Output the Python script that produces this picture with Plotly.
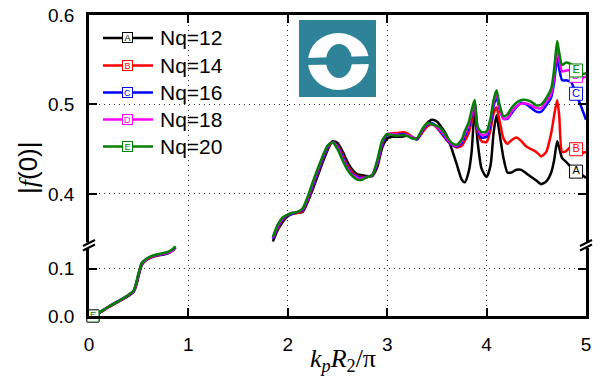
import plotly.graph_objects as go

# ---------------- data ----------------
series_names = ["Nq=12", "Nq=14", "Nq=16", "Nq=18", "Nq=20"]
series_letters = ["A", "B", "C", "D", "E"]
series_colors = ["#000000", "#FF0000", "#0000FF", "#FF00FF", "#008000"]

x_low = [0.04, 0.1, 0.2, 0.3, 0.4, 0.45, 0.48, 0.5, 0.53, 0.57, 0.62, 0.68, 0.75, 0.8, 0.84, 0.87]
low_A = [0.0, 0.006, 0.019, 0.031, 0.043, 0.051, 0.068, 0.086, 0.107, 0.117, 0.123, 0.127, 0.130, 0.133, 0.138, 0.144]
low_B = [0.0, 0.006, 0.019, 0.031, 0.044, 0.052, 0.070, 0.088, 0.109, 0.118, 0.124, 0.128, 0.131, 0.134, 0.139, 0.145]
low_C = [0.0, 0.007, 0.020, 0.032, 0.044, 0.053, 0.072, 0.089, 0.110, 0.119, 0.125, 0.129, 0.131, 0.134, 0.139, 0.145]
low_D = [0.0, 0.007, 0.020, 0.032, 0.045, 0.053, 0.073, 0.090, 0.111, 0.119, 0.125, 0.129, 0.132, 0.134, 0.139, 0.146]
low_E = [0.0, 0.007, 0.020, 0.032, 0.045, 0.054, 0.075, 0.092, 0.112, 0.120, 0.126, 0.130, 0.133, 0.136, 0.141, 0.147]

x_up = [1.85, 1.9, 1.95, 2.0, 2.05, 2.1, 2.15, 2.2, 2.25, 2.3, 2.35, 2.4, 2.45, 2.5, 2.55, 2.6,
        2.65, 2.7, 2.75, 2.8, 2.85, 2.9, 2.95, 3.0, 3.05, 3.1, 3.15, 3.2, 3.25, 3.3, 3.35, 3.4,
        3.45, 3.5, 3.55, 3.6, 3.65, 3.7, 3.75, 3.78, 3.82, 3.85, 3.88, 3.91, 3.95, 4.0, 4.04,
        4.07, 4.1, 4.13, 4.17, 4.21, 4.25, 4.3, 4.35, 4.4, 4.45, 4.5, 4.55, 4.6, 4.65, 4.68,
        4.71, 4.73, 4.76, 4.8, 4.85, 4.9, 4.95, 5.0]

up_A = [0.347, 0.360, 0.369, 0.375, 0.378, 0.379, 0.380, 0.391, 0.405, 0.420, 0.435, 0.449, 0.459, 0.457, 0.448, 0.436,
        0.427, 0.422, 0.421, 0.420, 0.420, 0.430, 0.452, 0.462, 0.464, 0.464, 0.464, 0.465, 0.463, 0.462, 0.470, 0.479,
        0.483, 0.481, 0.474, 0.465, 0.450, 0.433, 0.416, 0.413, 0.425, 0.448, 0.494, 0.458, 0.428, 0.419, 0.432,
        0.468, 0.488, 0.468, 0.440, 0.424, 0.424, 0.427, 0.427, 0.423, 0.419, 0.415, 0.411, 0.414, 0.424, 0.438,
        0.459, 0.452, 0.440, 0.436, 0.430, 0.425, 0.422, 0.418]
up_B = [0.350, 0.362, 0.371, 0.376, 0.378, 0.379, 0.381, 0.393, 0.408, 0.423, 0.438, 0.451, 0.458, 0.454, 0.444, 0.432,
        0.424, 0.420, 0.419, 0.419, 0.421, 0.433, 0.455, 0.466, 0.468, 0.468, 0.469, 0.468, 0.464, 0.461, 0.468, 0.475,
        0.478, 0.474, 0.467, 0.460, 0.455, 0.452, 0.454, 0.459, 0.468, 0.482, 0.500, 0.470, 0.459, 0.458, 0.472,
        0.490, 0.497, 0.482, 0.462, 0.456, 0.460, 0.463, 0.459, 0.453, 0.450, 0.447, 0.442, 0.447, 0.468, 0.488,
        0.505, 0.488, 0.447, 0.448, 0.453, 0.450, 0.446, 0.447]
up_C = [0.350, 0.363, 0.372, 0.376, 0.378, 0.380, 0.382, 0.394, 0.409, 0.424, 0.439, 0.452, 0.458, 0.453, 0.442, 0.430,
        0.422, 0.419, 0.418, 0.419, 0.421, 0.434, 0.456, 0.466, 0.467, 0.466, 0.467, 0.466, 0.463, 0.461, 0.470, 0.477,
        0.479, 0.475, 0.468, 0.461, 0.455, 0.453, 0.457, 0.464, 0.474, 0.488, 0.503, 0.472, 0.463, 0.464, 0.478,
        0.498, 0.508, 0.495, 0.484, 0.484, 0.490, 0.497, 0.502, 0.500, 0.496, 0.492, 0.492, 0.499, 0.508, 0.525,
        0.552, 0.540, 0.527, 0.527, 0.525, 0.512, 0.498, 0.483]
up_D = [0.351, 0.364, 0.373, 0.377, 0.379, 0.380, 0.383, 0.395, 0.411, 0.426, 0.441, 0.453, 0.458, 0.452, 0.440, 0.429,
        0.421, 0.418, 0.417, 0.419, 0.421, 0.436, 0.458, 0.467, 0.467, 0.466, 0.466, 0.466, 0.463, 0.462, 0.471, 0.478,
        0.478, 0.475, 0.470, 0.462, 0.456, 0.454, 0.459, 0.467, 0.477, 0.490, 0.503, 0.473, 0.466, 0.467, 0.482,
        0.502, 0.512, 0.497, 0.484, 0.485, 0.492, 0.498, 0.501, 0.501, 0.499, 0.496, 0.496, 0.503, 0.512, 0.532,
        0.562, 0.551, 0.537, 0.538, 0.538, 0.532, 0.530, 0.531]
up_E = [0.352, 0.366, 0.374, 0.377, 0.379, 0.380, 0.384, 0.397, 0.413, 0.428, 0.442, 0.454, 0.458, 0.450, 0.438, 0.427,
        0.420, 0.416, 0.416, 0.419, 0.421, 0.438, 0.460, 0.467, 0.466, 0.465, 0.466, 0.465, 0.462, 0.462, 0.472, 0.479,
        0.478, 0.476, 0.472, 0.464, 0.457, 0.455, 0.461, 0.470, 0.480, 0.494, 0.505, 0.475, 0.469, 0.470, 0.485,
        0.505, 0.516, 0.500, 0.487, 0.489, 0.496, 0.502, 0.505, 0.505, 0.503, 0.499, 0.500, 0.507, 0.518, 0.540,
        0.571, 0.558, 0.544, 0.547, 0.545, 0.538, 0.534, 0.535]

low_series = [low_A, low_B, low_C, low_D, low_E]
up_series = [up_A, up_B, up_C, up_D, up_E]

x_ticks = [0, 1, 2, 3, 4, 5]
y_low_ticks = [0.0, 0.1]
y_low_ticktext = ["0.0", "0.1"]
y_up_ticks = [0.4, 0.5, 0.6]
y_up_ticktext = ["0.4", "0.5", "0.6"]
label_x_up = 4.9   # where the letter markers sit on the upper curves

# ---------------- figure ----------------
L, R, T, B = 89, 586, 15, 316
W, H = 602, 380
def px(xp):
    return (xp - L) / (R - L)
def py(yp):
    return (B - yp) / (B - T)

BREAK = py(245)

fig = go.Figure()
mark_idx = x_up.index(label_x_up)
for name, letter, color, lo, up in zip(series_names, series_letters, series_colors, low_series, up_series):
    fig.add_trace(go.Scatter(x=x_low, y=lo, mode="lines", xaxis="x", yaxis="y",
                             line=dict(color=color, width=2.5, shape="spline", smoothing=0.6),
                             name=name, showlegend=False))
    fig.add_trace(go.Scatter(x=x_up, y=up, mode="lines", xaxis="x2", yaxis="y2",
                             line=dict(color=color, width=2.5, shape="spline", smoothing=0.6),
                             name=name, showlegend=False))
for name, letter, color, lo, up in zip(series_names, series_letters, series_colors, low_series, up_series):
    fig.add_trace(go.Scatter(x=[x_low[0]], y=[lo[0]], mode="markers+text", xaxis="x", yaxis="y",
                             marker=dict(symbol="square", size=12, color="white", line=dict(color=color, width=1)),
                             text=[letter], textposition="middle center",
                             textfont=dict(color=color, size=9, family="Liberation Sans"),
                             showlegend=False, cliponaxis=False))
    fig.add_trace(go.Scatter(x=[x_up[mark_idx]], y=[up[mark_idx]], mode="markers+text", xaxis="x2", yaxis="y2",
                             marker=dict(symbol="square", size=13, color="white", line=dict(color=color, width=1)),
                             text=[letter], textposition="middle center",
                             textfont=dict(color=color, size=11, family="Liberation Sans"),
                             showlegend=False, cliponaxis=False))

axis_common = dict(showline=True, linewidth=2.5, linecolor="black", ticks="inside", ticklen=8,
                   tickwidth=2, tickcolor="black", showgrid=True, gridcolor="#333333", gridwidth=1,
                   griddash="1px,4px", zeroline=False, automargin=False,
                   tickfont=dict(family="Liberation Sans", size=19, color="black"))

fig.update_layout(
    template="none",
    width=W, height=H,
    margin=dict(l=L, r=W - R, t=T, b=H - B, autoexpand=False),
    plot_bgcolor="white", paper_bgcolor="white", showlegend=False,
    xaxis=dict(domain=[0, 1], range=[0, 5], anchor="y", tickvals=x_ticks, ticklabelstandoff=9, **axis_common),
    xaxis2=dict(domain=[0, 1], range=[0, 5], anchor="y2", matches="x", side="top", tickvals=x_ticks,
                showticklabels=False, **axis_common),
    yaxis=dict(domain=[0, BREAK], range=[0, 0.15], anchor="x", tickvals=y_low_ticks, ticktext=y_low_ticktext,
               mirror="ticks", ticklabelstandoff=8, **axis_common),
    yaxis2=dict(domain=[BREAK, 1], range=[0.343, 0.6], anchor="x2", tickvals=y_up_ticks, ticktext=y_up_ticktext,
                mirror="ticks", ticklabelstandoff=8, **axis_common),
)

shapes = []
annotations = []

# axis-break marks on both vertical axes
for xa in (L, R):
    shapes.append(dict(type="rect", xref="paper", yref="paper", x0=px(xa - 3), x1=px(xa + 3),
                       y0=py(248), y1=py(242.5), fillcolor="white", line=dict(width=0), layer="above"))
    for off in (0, 4.5):
        shapes.append(dict(type="line", xref="paper", yref="paper",
                           x0=px(xa - 6), y0=py(248 + off - 2), x1=px(xa + 6), y1=py(242 + off - 2),
                           line=dict(color="black", width=2), layer="above"))

# legend (drawn by hand, Origin style)
legend_rows = [38, 65.5, 92.5, 119.5, 146.5]
for yrow, name, letter, color in zip(legend_rows, series_names, series_letters, series_colors):
    shapes.append(dict(type="line", xref="paper", yref="paper", x0=px(103), x1=px(153),
                       y0=py(yrow), y1=py(yrow), line=dict(color=color, width=2.5)))
    annotations.append(dict(xref="paper", yref="paper", x=px(127), y=py(yrow), text=letter,
                            showarrow=False, font=dict(family="Liberation Sans", size=9, color=color),
                            bordercolor=color, borderwidth=1, bgcolor="white", borderpad=0,
                            width=9, height=9, xanchor="center", yanchor="middle"))
    annotations.append(dict(xref="paper", yref="paper", x=px(158), y=py(yrow), text=name,
                            showarrow=False, font=dict(family="Liberation Sans", size=21, color="black"),
                            xanchor="left", yanchor="middle"))

# logo
teal = "#2E8399"
shapes.append(dict(type="rect", xref="paper", yref="paper", x0=px(299), x1=px(376), y0=py(97), y1=py(20),
                   fillcolor=teal, line=dict(width=0), layer="above"))
shapes.append(dict(type="circle", xref="paper", yref="paper", x0=px(308), x1=px(369), y0=py(90), y1=py(33),
                   fillcolor="white", line=dict(width=0), layer="above"))
shapes.append(dict(type="circle", xref="paper", yref="paper", x0=px(326), x1=px(352), y0=py(78), y1=py(44),
                   fillcolor=teal, line=dict(width=0), layer="above"))
shapes.append(dict(type="path", xref="paper", yref="paper",
                   path=f"M {px(305)},{py(58)} L {px(372)},{py(56)} L {px(372)},{py(64)} L {px(305)},{py(65)} Z",
                   fillcolor=teal, line=dict(width=0), layer="above"))

# axis titles
annotations.append(dict(xref="paper", yref="paper", x=px(343), y=py(360),
                        text="<i>k</i><sub><i>p</i></sub><i>R</i><sub>2</sub>/π",
                        showarrow=False, font=dict(family="Liberation Serif", size=26, color="black"),
                        xanchor="center", yanchor="middle"))
annotations.append(dict(xref="paper", yref="paper", x=px(28), y=py(168),
                        text="|<span style='font-family:Liberation Serif'><i>f</i></span>(0)|",
                        showarrow=False, textangle=-90,
                        font=dict(family="Liberation Sans", size=26, color="black"),
                        xanchor="center", yanchor="middle"))

fig.update_layout(shapes=shapes, annotations=annotations)
fig.write_html("out.html", config={"displayModeBar": False},
               post_script="document.body.style.margin='0px';document.body.style.overflow='hidden';")
